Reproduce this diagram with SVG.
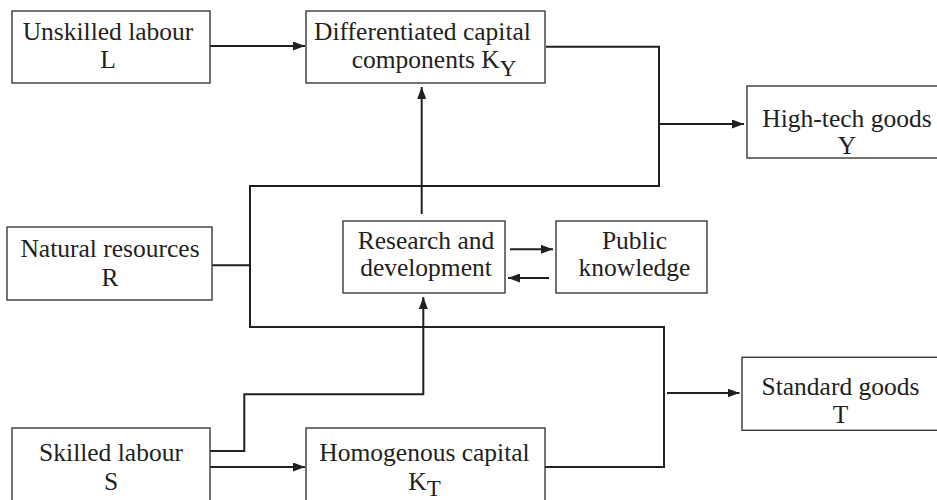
<svg xmlns="http://www.w3.org/2000/svg" width="937" height="500" viewBox="0 0 937 500">
<style>
.box{fill:#fff;stroke:#3a3a3a;stroke-width:1.4}
.t{font-family:"Liberation Serif","Times New Roman",serif;font-size:25.5px;fill:#231f20;text-anchor:middle}
.sub{font-size:23px}
.c{fill:none;stroke:#231f20;stroke-width:2}
</style>
<defs>
<marker id="ah" markerUnits="userSpaceOnUse" markerWidth="13" markerHeight="9" refX="12" refY="4.5" orient="auto">
<path d="M0,0 L12,4.5 L0,9 z" fill="#231f20"/>
</marker>
</defs>
<rect x="0" y="0" width="937" height="500" fill="#fff"/>
<g id="connectors">
<line class="c" x1="210" y1="46" x2="305" y2="46" marker-end="url(#ah)"/>
<polyline class="c" points="546,46.7 659,46.7 659,186 250,186 250,327 664,327 664,467 545,467"/>
<line class="c" x1="212" y1="265.3" x2="250" y2="265.3"/>
<line class="c" x1="659" y1="124" x2="744" y2="124" marker-end="url(#ah)"/>
<line class="c" x1="667" y1="393" x2="739.5" y2="393" marker-end="url(#ah)"/>
<line class="c" x1="421.7" y1="214" x2="421.7" y2="87" marker-end="url(#ah)"/>
<polyline class="c" points="210,451 244.3,451 244.3,394.3 423.3,394.3 423.3,297" marker-end="url(#ah)"/>
<line class="c" x1="210" y1="467" x2="305" y2="467" marker-end="url(#ah)"/>
<line class="c" x1="510" y1="249.3" x2="553" y2="249.3" marker-end="url(#ah)"/>
<line class="c" x1="549" y1="278" x2="508" y2="278" marker-end="url(#ah)"/>
</g>
<g id="unskilled">
<rect class="box" x="12" y="11" width="198" height="72"/>
<text class="t" x="108" y="40">Unskilled labour</text>
<text class="t" x="108" y="68">L</text>
</g>
<g id="diffcap">
<rect class="box" x="306" y="11" width="239" height="72"/>
<text class="t" x="422.5" y="40">Differentiated capital</text>
<text class="t" x="434" y="68">components K<tspan class="sub" dy="8">Y</tspan></text>
</g>
<g id="hightech">
<rect class="box" x="747" y="86" width="200" height="72"/>
<text class="t" x="847" y="126.5">High-tech goods</text>
<text class="t" x="847" y="154">Y</text>
</g>
<g id="natural">
<rect class="box" x="7" y="227" width="205" height="73"/>
<text class="t" x="110" y="256.5">Natural resources</text>
<text class="t" x="110" y="285.5">R</text>
</g>
<g id="rd">
<rect class="box" x="343" y="221" width="162" height="72"/>
<text class="t" x="426" y="249.3">Research and</text>
<text class="t" x="426" y="276">development</text>
</g>
<g id="public">
<rect class="box" x="556" y="221" width="151" height="72"/>
<text class="t" x="634.5" y="249.3">Public</text>
<text class="t" x="634.5" y="276">knowledge</text>
</g>
<g id="standard">
<rect class="box" x="742" y="357.3" width="205" height="73"/>
<text class="t" x="840.5" y="395">Standard goods</text>
<text class="t" x="840.5" y="422.5">T</text>
</g>
<g id="skilled">
<rect class="box" x="12" y="428" width="198" height="90"/>
<text class="t" x="111" y="460.7">Skilled labour</text>
<text class="t" x="111" y="490">S</text>
</g>
<g id="homog">
<rect class="box" x="306" y="428" width="239" height="90"/>
<text class="t" x="424.5" y="460.7">Homogenous capital</text>
<text class="t" x="424.5" y="490">K<tspan class="sub" dy="6">T</tspan></text>
</g>
</svg>
